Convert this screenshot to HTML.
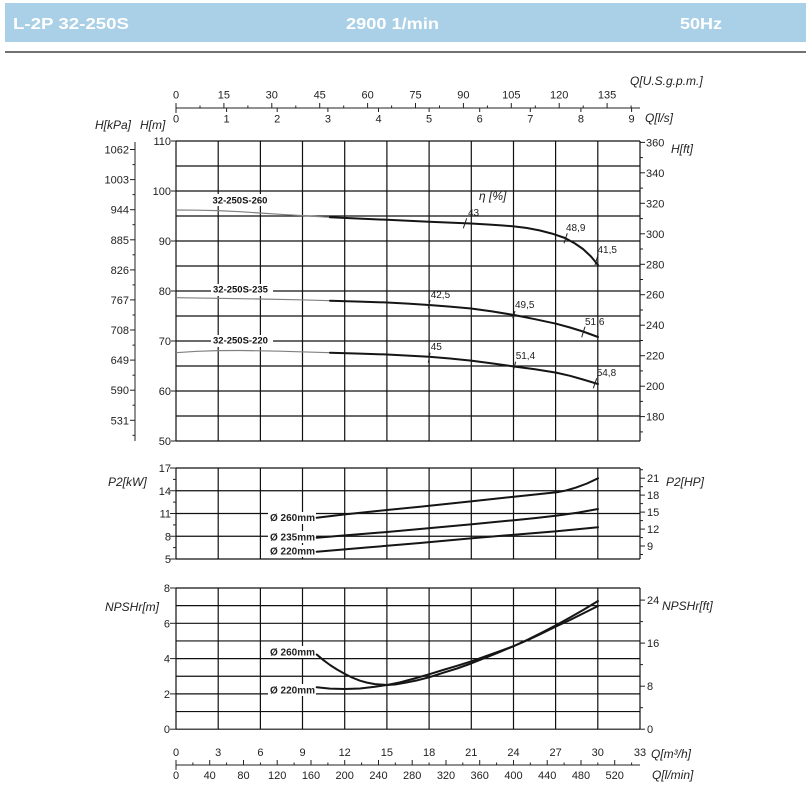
<!DOCTYPE html>
<html><head><meta charset="utf-8"><style>
html,body{margin:0;padding:0;background:#fff;}
svg{display:block;}
text{font-family:"Liberation Sans",Arial,sans-serif;fill:#222;}
.t{font-size:11px;}
.it{font-size:12px;font-style:italic;}
.b{font-size:9.5px;font-weight:bold;fill:#111;}
.e{font-size:10px;fill:#222;}
.g line{stroke:#111;stroke-width:1.2;}
.tk line{stroke:#222;stroke-width:1;}
.c{fill:none;stroke:#151515;stroke-width:2;stroke-linejoin:round;stroke-linecap:round;}
.cg{fill:none;stroke:#808080;stroke-width:1.2;stroke-linejoin:round;}
</style></head><body>
<svg width="812" height="811" viewBox="0 0 812 811" xmlns="http://www.w3.org/2000/svg">
<!-- header -->
<rect x="5" y="3" width="801" height="39" fill="#a9d0e6"/>
<text x="13" y="29" style="font-size:16px;font-weight:bold;fill:#fff" textLength="116" lengthAdjust="spacingAndGlyphs">L-2P 32-250S</text>
<text x="346" y="29" style="font-size:16px;font-weight:bold;fill:#fff" textLength="93" lengthAdjust="spacingAndGlyphs">2900 1/min</text>
<text x="680" y="29" style="font-size:16px;font-weight:bold;fill:#fff" textLength="42" lengthAdjust="spacingAndGlyphs">50Hz</text>
<line x1="5" y1="52" x2="806" y2="52" stroke="#444" stroke-width="1.5"/>

<!-- top axes -->
<text class="it" x="630" y="85">Q[U.S.g.p.m.]</text>
<g class="tk">
<line x1="176" y1="108" x2="640" y2="108"/>
<line x1="176" y1="103" x2="176" y2="113"/>
<line x1="223.9" y1="103" x2="223.9" y2="108"/><line x1="271.8" y1="103" x2="271.8" y2="108"/><line x1="319.7" y1="103" x2="319.7" y2="108"/><line x1="367.6" y1="103" x2="367.6" y2="108"/><line x1="415.5" y1="103" x2="415.5" y2="108"/><line x1="463.4" y1="103" x2="463.4" y2="108"/><line x1="511.3" y1="103" x2="511.3" y2="108"/><line x1="559.2" y1="103" x2="559.2" y2="108"/><line x1="607.1" y1="103" x2="607.1" y2="108"/>
<line x1="200" y1="105.5" x2="200" y2="108"/><line x1="247.9" y1="105.5" x2="247.9" y2="108"/><line x1="295.8" y1="105.5" x2="295.8" y2="108"/><line x1="343.7" y1="105.5" x2="343.7" y2="108"/><line x1="391.6" y1="105.5" x2="391.6" y2="108"/><line x1="439.5" y1="105.5" x2="439.5" y2="108"/><line x1="487.4" y1="105.5" x2="487.4" y2="108"/><line x1="535.3" y1="105.5" x2="535.3" y2="108"/><line x1="583.2" y1="105.5" x2="583.2" y2="108"/><line x1="631.1" y1="105.5" x2="631.1" y2="108"/>
<line x1="226.6" y1="108" x2="226.6" y2="112"/><line x1="277.2" y1="108" x2="277.2" y2="112"/><line x1="327.9" y1="108" x2="327.9" y2="112"/><line x1="378.5" y1="108" x2="378.5" y2="112"/><line x1="429.1" y1="108" x2="429.1" y2="112"/><line x1="479.7" y1="108" x2="479.7" y2="112"/><line x1="530.3" y1="108" x2="530.3" y2="112"/><line x1="580.9" y1="108" x2="580.9" y2="112"/><line x1="631.6" y1="108" x2="631.6" y2="112"/>
</g>
<g class="t" text-anchor="middle">
<text x="176" y="98.5">0</text><text x="223.9" y="98.5">15</text><text x="271.8" y="98.5">30</text><text x="319.7" y="98.5">45</text><text x="367.6" y="98.5">60</text><text x="415.5" y="98.5">75</text><text x="463.4" y="98.5">90</text><text x="511.3" y="98.5">105</text><text x="559.2" y="98.5">120</text><text x="607.1" y="98.5">135</text>
<text x="176" y="122.5">0</text><text x="226.6" y="122.5">1</text><text x="277.2" y="122.5">2</text><text x="327.9" y="122.5">3</text><text x="378.5" y="122.5">4</text><text x="429.1" y="122.5">5</text><text x="479.7" y="122.5">6</text><text x="530.3" y="122.5">7</text><text x="580.9" y="122.5">8</text><text x="631.6" y="122.5">9</text>
</g>
<text class="it" x="645" y="122">Q[l/s]</text>

<!-- axis titles top chart -->
<text class="it" x="95" y="129">H[kPa]</text>
<text class="it" x="140" y="129">H[m]</text>
<text class="it" x="671" y="153">H[ft]</text>

<!-- kPa axis -->
<g class="tk">
<line x1="135" y1="142" x2="135" y2="441"/>
<line x1="130" y1="149.5" x2="135" y2="149.5"/><line x1="130" y1="179.6" x2="135" y2="179.6"/><line x1="130" y1="209.7" x2="135" y2="209.7"/><line x1="130" y1="239.8" x2="135" y2="239.8"/><line x1="130" y1="269.9" x2="135" y2="269.9"/><line x1="130" y1="299.9" x2="135" y2="299.9"/><line x1="130" y1="330" x2="135" y2="330"/><line x1="130" y1="360.1" x2="135" y2="360.1"/><line x1="130" y1="390.2" x2="135" y2="390.2"/><line x1="130" y1="420.3" x2="135" y2="420.3"/>
<line x1="132.5" y1="164.6" x2="135" y2="164.6"/><line x1="132.5" y1="194.6" x2="135" y2="194.6"/><line x1="132.5" y1="224.7" x2="135" y2="224.7"/><line x1="132.5" y1="254.8" x2="135" y2="254.8"/><line x1="132.5" y1="284.9" x2="135" y2="284.9"/><line x1="132.5" y1="315" x2="135" y2="315"/><line x1="132.5" y1="345.1" x2="135" y2="345.1"/><line x1="132.5" y1="375.2" x2="135" y2="375.2"/><line x1="132.5" y1="405.2" x2="135" y2="405.2"/><line x1="132.5" y1="435.3" x2="135" y2="435.3"/>
</g>
<g class="t" text-anchor="end">
<text x="129" y="153.5">1062</text><text x="129" y="183.6">1003</text><text x="129" y="213.7">944</text><text x="129" y="243.8">885</text><text x="129" y="273.9">826</text><text x="129" y="303.9">767</text><text x="129" y="334">708</text><text x="129" y="364.1">649</text><text x="129" y="394.2">590</text><text x="129" y="424.3">531</text>
</g>
<!-- H[m] labels -->
<g class="t" text-anchor="end">
<text x="171" y="145">110</text><text x="171" y="195">100</text><text x="171" y="245">90</text><text x="171" y="295">80</text><text x="171" y="345">70</text><text x="171" y="395">60</text><text x="171" y="445">50</text>
</g>
<g class="tk">
<line x1="171" y1="141" x2="176" y2="141"/><line x1="171" y1="191" x2="176" y2="191"/><line x1="171" y1="241" x2="176" y2="241"/><line x1="171" y1="291" x2="176" y2="291"/><line x1="171" y1="341" x2="176" y2="341"/><line x1="171" y1="391" x2="176" y2="391"/><line x1="171" y1="441" x2="176" y2="441"/>
</g>
<!-- ft axis -->
<g class="tk">
<line x1="640" y1="142.4" x2="645" y2="142.4"/><line x1="640" y1="157.6" x2="643" y2="157.6"/><line x1="640" y1="172.8" x2="645" y2="172.8"/><line x1="640" y1="188.1" x2="643" y2="188.1"/><line x1="640" y1="203.3" x2="645" y2="203.3"/><line x1="640" y1="218.6" x2="643" y2="218.6"/><line x1="640" y1="233.8" x2="645" y2="233.8"/><line x1="640" y1="249" x2="643" y2="249"/><line x1="640" y1="264.3" x2="645" y2="264.3"/><line x1="640" y1="279.5" x2="643" y2="279.5"/><line x1="640" y1="294.7" x2="645" y2="294.7"/><line x1="640" y1="310" x2="643" y2="310"/><line x1="640" y1="325.2" x2="645" y2="325.2"/><line x1="640" y1="340.5" x2="643" y2="340.5"/><line x1="640" y1="355.7" x2="645" y2="355.7"/><line x1="640" y1="370.9" x2="643" y2="370.9"/><line x1="640" y1="386.2" x2="645" y2="386.2"/><line x1="640" y1="401.4" x2="643" y2="401.4"/><line x1="640" y1="416.6" x2="645" y2="416.6"/><line x1="640" y1="431.9" x2="643" y2="431.9"/>
</g>
<g class="t">
<text x="646" y="146.4">360</text><text x="646" y="176.8">340</text><text x="646" y="207.3">320</text><text x="646" y="237.8">300</text><text x="646" y="268.3">280</text><text x="646" y="298.7">260</text><text x="646" y="329.2">240</text><text x="646" y="359.7">220</text><text x="646" y="390.2">200</text><text x="646" y="420.6">180</text>
</g>

<!-- top chart grid -->
<g class="g">
<line x1="176" y1="141" x2="640" y2="141"/><line x1="176" y1="166" x2="640" y2="166"/><line x1="176" y1="191" x2="640" y2="191"/><line x1="176" y1="216" x2="640" y2="216"/><line x1="176" y1="241" x2="640" y2="241"/><line x1="176" y1="266" x2="640" y2="266"/><line x1="176" y1="291" x2="640" y2="291"/><line x1="176" y1="316" x2="640" y2="316"/><line x1="176" y1="341" x2="640" y2="341"/><line x1="176" y1="366" x2="640" y2="366"/><line x1="176" y1="391" x2="640" y2="391"/><line x1="176" y1="416" x2="640" y2="416"/><line x1="176" y1="441" x2="640" y2="441"/>
<line x1="176" y1="141" x2="176" y2="441"/><line x1="218.2" y1="141" x2="218.2" y2="441"/><line x1="260.4" y1="141" x2="260.4" y2="441"/><line x1="302.5" y1="141" x2="302.5" y2="441"/><line x1="344.7" y1="141" x2="344.7" y2="441"/><line x1="386.9" y1="141" x2="386.9" y2="441"/><line x1="429.1" y1="141" x2="429.1" y2="441"/><line x1="471.3" y1="141" x2="471.3" y2="441"/><line x1="513.5" y1="141" x2="513.5" y2="441"/><line x1="555.6" y1="141" x2="555.6" y2="441"/><line x1="597.8" y1="141" x2="597.8" y2="441"/><line x1="640" y1="141" x2="640" y2="441"/>
</g>
<!-- label backgrounds -->
<rect x="211" y="194" width="62" height="12" fill="#fff"/>
<rect x="211" y="284" width="62" height="12" fill="#fff"/>
<rect x="211" y="335" width="62" height="12" fill="#fff"/>
<text class="b" x="212.5" y="203.5">32-250S-260</text>
<text class="b" x="213" y="292.5">32-250S-235</text>
<text class="b" x="213" y="343.5">32-250S-220</text>

<!-- H curves -->
<polyline class="cg" points="176,210 197,210.2 218,210.6 240,211.7 260,213 280,214.3 300,215.5 315,216.4 330,217.3"/>
<polyline class="c" points="330,217.3 360,218.6 387,219.8 408,220.8 429,221.7 450,222.6 471,223.5 490,224.6 503,225.5 514,226.4 527,228 540,230.5 552,233.6 565,238 575,243.5 583,249 591,256.5 598,265"/>
<polyline class="cg" points="176,297.7 218,298.3 260,299 300,299.8 330,300.7"/>
<polyline class="c" points="330,300.7 360,301.6 387,302.5 408,303.6 429,305 450,306.6 471,308.5 492,311.4 514,315 535,319.2 556,323.7 570,327.5 583,331.5 598,337"/>
<polyline class="cg" points="176,352.7 197,351.3 218,350.6 240,350.5 260,350.8 280,351.2 300,351.8 330,352.7"/>
<polyline class="c" points="330,352.7 360,353.6 387,354.5 408,355.6 429,356.8 450,358.5 471,360.6 492,363.4 514,366.5 535,369.3 556,372.6 570,375.8 583,379.5 598,384"/>
<!-- efficiency marks -->
<g stroke="#222" stroke-width="1">
<line x1="463.3" y1="228.3" x2="466.7" y2="218.3"/>
<line x1="564" y1="243.3" x2="567.3" y2="233.3"/>
<line x1="595" y1="265" x2="598.3" y2="254"/>
<line x1="428.3" y1="308.3" x2="430" y2="300"/>
<line x1="512.7" y1="318.3" x2="515" y2="311"/>
<line x1="581.7" y1="337.3" x2="585" y2="326.7"/>
<line x1="428.3" y1="362.7" x2="430" y2="352.7"/>
<line x1="513.3" y1="370.7" x2="515.7" y2="361.7"/>
<line x1="593.3" y1="388.3" x2="596.7" y2="378.3"/>
</g>
<g class="e">
<text x="468" y="216">43</text>
<text x="566" y="231">48,9</text>
<text x="597.5" y="253">41,5</text>
<text x="430.7" y="298">42,5</text>
<text x="515" y="308">49,5</text>
<text x="585" y="325">51,6</text>
<text x="430.7" y="350">45</text>
<text x="515.7" y="359">51,4</text>
<text x="596.7" y="376">54,8</text>
</g>
<text class="it" x="479" y="200">η [%]</text>

<!-- P2 chart -->
<text class="it" x="108" y="486">P2[kW]</text>
<text class="it" x="666" y="486">P2[HP]</text>
<g class="g">
<line x1="176" y1="468" x2="640" y2="468"/><line x1="176" y1="490.75" x2="640" y2="490.75"/><line x1="176" y1="513.5" x2="640" y2="513.5"/><line x1="176" y1="536.25" x2="640" y2="536.25"/><line x1="176" y1="559" x2="640" y2="559"/>
<line x1="176" y1="468" x2="176" y2="559"/><line x1="218.2" y1="468" x2="218.2" y2="559"/><line x1="260.4" y1="468" x2="260.4" y2="559"/><line x1="302.5" y1="468" x2="302.5" y2="559"/><line x1="344.7" y1="468" x2="344.7" y2="559"/><line x1="386.9" y1="468" x2="386.9" y2="559"/><line x1="429.1" y1="468" x2="429.1" y2="559"/><line x1="471.3" y1="468" x2="471.3" y2="559"/><line x1="513.5" y1="468" x2="513.5" y2="559"/><line x1="555.6" y1="468" x2="555.6" y2="559"/><line x1="597.8" y1="468" x2="597.8" y2="559"/><line x1="640" y1="468" x2="640" y2="559"/>
</g>
<g class="tk">
<line x1="170" y1="468" x2="176" y2="468"/><line x1="170" y1="490.75" x2="176" y2="490.75"/><line x1="170" y1="513.5" x2="176" y2="513.5"/><line x1="170" y1="536.25" x2="176" y2="536.25"/><line x1="170" y1="559" x2="176" y2="559"/>
<line x1="173" y1="479.4" x2="176" y2="479.4"/><line x1="173" y1="502.1" x2="176" y2="502.1"/><line x1="173" y1="524.9" x2="176" y2="524.9"/><line x1="173" y1="547.6" x2="176" y2="547.6"/>
<line x1="640" y1="469.7" x2="643" y2="469.7"/><line x1="640" y1="478.2" x2="645" y2="478.2"/><line x1="640" y1="486.7" x2="643" y2="486.7"/><line x1="640" y1="495.1" x2="645" y2="495.1"/><line x1="640" y1="503.6" x2="643" y2="503.6"/><line x1="640" y1="512.1" x2="645" y2="512.1"/><line x1="640" y1="520.6" x2="643" y2="520.6"/><line x1="640" y1="529.1" x2="645" y2="529.1"/><line x1="640" y1="537.6" x2="643" y2="537.6"/><line x1="640" y1="546" x2="645" y2="546"/><line x1="640" y1="554.5" x2="643" y2="554.5"/>
</g>
<g class="t" text-anchor="end">
<text x="171" y="472">17</text><text x="171" y="494.75">14</text><text x="171" y="517.5">11</text><text x="171" y="540.25">8</text><text x="171" y="563">5</text>
</g>
<g class="t">
<text x="647" y="482.2">21</text><text x="647" y="499.1">18</text><text x="647" y="516.1">15</text><text x="647" y="533.1">12</text><text x="647" y="550">9</text>
</g>
<rect x="268" y="512" width="48" height="12" fill="#fff"/>
<rect x="268" y="531" width="48" height="12" fill="#fff"/>
<rect x="268" y="545" width="48" height="12" fill="#fff"/>
<g class="b" style="font-size:10px">
<text x="270" y="521">Ø 260mm</text>
<text x="270" y="540.5">Ø 235mm</text>
<text x="270" y="554.5">Ø 220mm</text>
</g>
<polyline class="c" points="316.7,517.7 345,514.4 387,510 420,506.7 472,501.2 514,496.7 540,494 556.7,492.3 566,490.5 576,487.6 587,483.5 598,478.3"/>
<polyline class="c" points="316.7,537.7 345,535.4 387,532 420,529 446,526.6 472,524.2 514,520.2 536,518 556.7,515.6 578,512.6 598,509"/>
<polyline class="c" points="316.7,551.7 368,547.4 420,543 472,538.2 514,534.7 556.7,531.2 598,527.3"/>

<!-- NPSH chart -->
<text class="it" x="105" y="611">NPSHr[m]</text>
<text class="it" x="662" y="610">NPSHr[ft]</text>
<g class="g">
<line x1="176" y1="588" x2="640" y2="588"/><line x1="176" y1="605.65" x2="640" y2="605.65"/><line x1="176" y1="623.3" x2="640" y2="623.3"/><line x1="176" y1="640.95" x2="640" y2="640.95"/><line x1="176" y1="658.6" x2="640" y2="658.6"/><line x1="176" y1="676.25" x2="640" y2="676.25"/><line x1="176" y1="693.9" x2="640" y2="693.9"/><line x1="176" y1="711.55" x2="640" y2="711.55"/><line x1="176" y1="729.2" x2="640" y2="729.2"/>
<line x1="176" y1="588" x2="176" y2="729.2"/><line x1="218.2" y1="588" x2="218.2" y2="729.2"/><line x1="260.4" y1="588" x2="260.4" y2="729.2"/><line x1="302.5" y1="588" x2="302.5" y2="729.2"/><line x1="344.7" y1="588" x2="344.7" y2="729.2"/><line x1="386.9" y1="588" x2="386.9" y2="729.2"/><line x1="429.1" y1="588" x2="429.1" y2="729.2"/><line x1="471.3" y1="588" x2="471.3" y2="729.2"/><line x1="513.5" y1="588" x2="513.5" y2="729.2"/><line x1="555.6" y1="588" x2="555.6" y2="729.2"/><line x1="597.8" y1="588" x2="597.8" y2="729.2"/><line x1="640" y1="588" x2="640" y2="729.2"/>
</g>
<g class="tk">
<line x1="170" y1="588" x2="176" y2="588"/><line x1="170" y1="623.3" x2="176" y2="623.3"/><line x1="170" y1="658.6" x2="176" y2="658.6"/><line x1="170" y1="693.9" x2="176" y2="693.9"/><line x1="170" y1="729.2" x2="176" y2="729.2"/>
<line x1="640" y1="600.1" x2="645" y2="600.1"/><line x1="640" y1="621.6" x2="643" y2="621.6"/><line x1="640" y1="643.1" x2="645" y2="643.1"/><line x1="640" y1="664.6" x2="643" y2="664.6"/><line x1="640" y1="686.2" x2="645" y2="686.2"/><line x1="640" y1="707.7" x2="643" y2="707.7"/><line x1="640" y1="729.2" x2="645" y2="729.2"/>
</g>
<g class="t" text-anchor="end">
<text x="170" y="592">8</text><text x="170" y="627.3">6</text><text x="170" y="662.6">4</text><text x="170" y="697.9">2</text><text x="170" y="733.2">0</text>
</g>
<g class="t">
<text x="647" y="604.1">24</text><text x="647" y="647.1">16</text><text x="647" y="690.2">8</text><text x="647" y="733.2">0</text>
</g>
<rect x="268" y="646" width="48" height="12" fill="#fff"/>
<rect x="268" y="684" width="48" height="12" fill="#fff"/>
<g class="b" style="font-size:10px">
<text x="270" y="655.5">Ø 260mm</text>
<text x="270" y="693.5">Ø 220mm</text>
</g>
<polyline class="c" points="316.7,654.5 323,659.8 330,665 337,669.5 345,674 352,677.5 360,680.7 367,682.6 375,684.1 387,685 395,684.5 405,682.8 417,680.4 429,677.3 443,672.8 457,668.5 471,663.5 485,658 499,652.3 514,646 528,639.5 542,632.5 556,625.3 570,617.5 584,609.5 598,601"/>
<polyline class="c" points="316.7,687.3 330,688.6 345,689 360,688.5 375,686.8 387,685 400,682.3 414,678.6 429,674.3 443,670 457,665.8 471,661.4 485,656.5 499,651.4 514,646 528,640 542,633.4 556,626.5 570,620 584,613 598,606"/>

<!-- bottom axes -->
<g class="t" text-anchor="middle">
<text x="176" y="756">0</text><text x="218.2" y="756">3</text><text x="260.4" y="756">6</text><text x="302.5" y="756">9</text><text x="344.7" y="756">12</text><text x="386.9" y="756">15</text><text x="429.1" y="756">18</text><text x="471.3" y="756">21</text><text x="513.5" y="756">24</text><text x="555.6" y="756">27</text><text x="597.8" y="756">30</text><text x="640" y="756">33</text>
<text x="176" y="779">0</text><text x="209.7" y="779">40</text><text x="243.5" y="779">80</text><text x="277.2" y="779">120</text><text x="311" y="779">160</text><text x="344.7" y="779">200</text><text x="378.5" y="779">240</text><text x="412.2" y="779">280</text><text x="446" y="779">320</text><text x="479.7" y="779">360</text><text x="513.5" y="779">400</text><text x="547.2" y="779">440</text><text x="581" y="779">480</text><text x="614.7" y="779">520</text>
</g>
<text class="it" x="651" y="758">Q[m³/h]</text>
<text class="it" x="652" y="779">Q[l/min]</text>
<g class="tk">
<line x1="176" y1="765" x2="640" y2="765"/>
<line x1="176" y1="760" x2="176" y2="770"/>
<line x1="209.7" y1="760" x2="209.7" y2="765"/><line x1="243.5" y1="760" x2="243.5" y2="765"/><line x1="277.2" y1="760" x2="277.2" y2="765"/><line x1="311" y1="760" x2="311" y2="765"/><line x1="344.7" y1="760" x2="344.7" y2="765"/><line x1="378.5" y1="760" x2="378.5" y2="765"/><line x1="412.2" y1="760" x2="412.2" y2="765"/><line x1="446" y1="760" x2="446" y2="765"/><line x1="479.7" y1="760" x2="479.7" y2="765"/><line x1="513.5" y1="760" x2="513.5" y2="765"/><line x1="547.2" y1="760" x2="547.2" y2="765"/><line x1="581" y1="760" x2="581" y2="765"/><line x1="614.7" y1="760" x2="614.7" y2="765"/>
<line x1="192.9" y1="762.5" x2="192.9" y2="765"/><line x1="226.6" y1="762.5" x2="226.6" y2="765"/><line x1="260.4" y1="762.5" x2="260.4" y2="765"/><line x1="294.1" y1="762.5" x2="294.1" y2="765"/><line x1="327.9" y1="762.5" x2="327.9" y2="765"/><line x1="361.6" y1="762.5" x2="361.6" y2="765"/><line x1="395.3" y1="762.5" x2="395.3" y2="765"/><line x1="429.1" y1="762.5" x2="429.1" y2="765"/><line x1="462.8" y1="762.5" x2="462.8" y2="765"/><line x1="496.6" y1="762.5" x2="496.6" y2="765"/><line x1="530.3" y1="762.5" x2="530.3" y2="765"/><line x1="564.1" y1="762.5" x2="564.1" y2="765"/><line x1="597.8" y1="762.5" x2="597.8" y2="765"/><line x1="631.6" y1="762.5" x2="631.6" y2="765"/>
</g>
</svg>
</body></html>
